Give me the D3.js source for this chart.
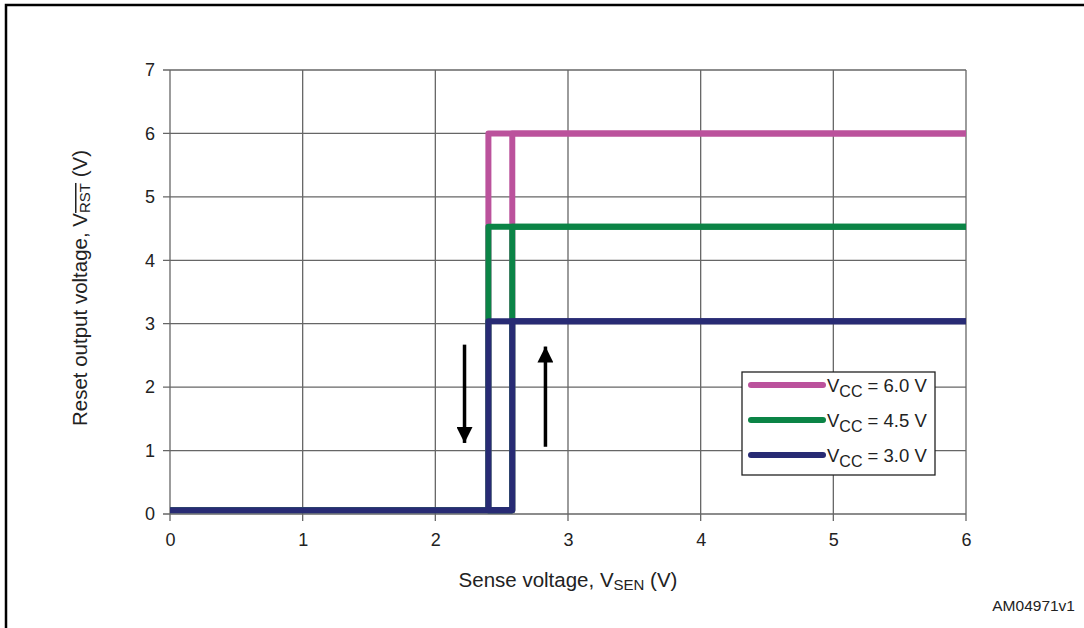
<!DOCTYPE html>
<html>
<head>
<meta charset="utf-8">
<script src="https://cdn.jsdelivr.net/npm/d3@7"></script>
<style>
  body { margin: 0; background: #fff; }
  text { font-family: "Liberation Sans", Arial, sans-serif; fill: #222; }
</style>
</head>
<body>
<div id="container"></div>
<script>
// data
const xTicks = [0, 1, 2, 3, 4, 5, 6]
const yTicks = [0, 1, 2, 3, 4, 5, 6, 7]
const seriesNames = ['V_CC = 6.0 V', 'V_CC = 4.5 V', 'V_CC = 3.0 V']
const seriesColors = ['#bb529c', '#0b8446', '#282b74']
const highLevels = [6.0, 4.53, 3.04]
const lowLevel = 0.06
const fallX = 2.40   // falling threshold
const riseX = 2.58   // rising threshold
const xEnd = 6
// arrows: [x, yFrom, yTo]
const arrows = [[2.22, 2.67, 1.12], [2.83, 1.06, 2.64]]

const width = 1084
const height = 628
const padL = 170, padR = 966, padT = 70, padB = 514

const svg = d3.select('#container').append('svg')
    .attr('width', width)
    .attr('height', height)

const xScale = d3.scaleLinear().domain([0, 6]).range([padL, padR])
const yScale = d3.scaleLinear().domain([0, 7]).range([padB, padT])

// outer frame (only top and left visible)
svg.append('path')
    .attr('d', `M6,${height + 5} V5 H${width + 5}`)
    .attr('fill', 'none')
    .attr('stroke', '#000')
    .attr('stroke-width', 2.5)

// grid
svg.append('g').selectAll('line')
    .data(xTicks)
    .enter()
    .append('line')
    .attr('x1', d => xScale(d)).attr('x2', d => xScale(d))
    .attr('y1', padT).attr('y2', padB + 7)
    .attr('stroke', '#666').attr('stroke-width', 1.3)

svg.append('g').selectAll('line')
    .data(yTicks)
    .enter()
    .append('line')
    .attr('x1', padL - 7).attr('x2', padR)
    .attr('y1', d => yScale(d)).attr('y2', d => yScale(d))
    .attr('stroke', '#666').attr('stroke-width', 1.3)

// axes (labels only, lines drawn as grid)
const xAxis = d3.axisBottom(xScale).tickValues(xTicks).tickFormat(d3.format('d')).tickSize(0).tickPadding(19)
const yAxis = d3.axisLeft(yScale).tickValues(yTicks).tickFormat(d3.format('d')).tickSize(0).tickPadding(15)

const gx = svg.append('g')
    .attr('transform', `translate(0, ${padB})`)
    .call(xAxis)
gx.select('.domain').remove()
gx.selectAll('text').style('font-size', '18px').style('font-family', '"Liberation Sans", Arial, sans-serif').attr('fill', '#222')

const gy = svg.append('g')
    .attr('transform', `translate(${padL}, 0)`)
    .call(yAxis)
gy.select('.domain').remove()
gy.selectAll('text').style('font-size', '18px').style('font-family', '"Liberation Sans", Arial, sans-serif').attr('fill', '#222')

// hysteresis loops
const line = d3.line().x(d => xScale(d[0])).y(d => yScale(d[1]))

highLevels.forEach((hi, i) => {
    const loop = [
        [0, lowLevel], [riseX, lowLevel], [riseX, hi], [xEnd, hi]
    ]
    const back = [
        [xEnd, hi], [fallX, hi], [fallX, lowLevel], [riseX, lowLevel]
    ]
    ;[loop, back].forEach(pts => {
        svg.append('path')
            .attr('d', line(pts))
            .attr('fill', 'none')
            .attr('stroke', seriesColors[i])
            .attr('stroke-width', 6)
            .attr('stroke-linejoin', 'round')
    })
})

// arrows
svg.append('defs').append('marker')
    .attr('id', 'head')
    .attr('viewBox', '0 0 10 10')
    .attr('refX', 10).attr('refY', 5)
    .attr('markerWidth', 24).attr('markerHeight', 16)
    .attr('markerUnits', 'userSpaceOnUse')
    .attr('orient', 'auto')
    .append('path')
    .attr('d', 'M0,0 L10,5 L0,10 Z')
    .attr('fill', '#000')

svg.append('g').selectAll('line')
    .data(arrows)
    .enter()
    .append('line')
    .attr('x1', d => xScale(d[0])).attr('x2', d => xScale(d[0]))
    .attr('y1', d => yScale(d[1])).attr('y2', d => yScale(d[2]))
    .attr('stroke', '#000').attr('stroke-width', 3.5)
    .attr('marker-end', 'url(#head)')

// legend
const lg = svg.append('g').attr('transform', 'translate(742, 372)')
lg.append('rect')
    .attr('width', 193).attr('height', 103)
    .attr('fill', '#fff').attr('stroke', '#222').attr('stroke-width', 1.3)

seriesNames.forEach((name, i) => {
    const y = 13 + i * 35
    lg.append('line')
        .attr('x1', 9).attr('x2', 81)
        .attr('y1', y).attr('y2', y)
        .attr('stroke', seriesColors[i]).attr('stroke-width', 6)
        .attr('stroke-linecap', 'round')
    const t = lg.append('text')
        .attr('x', 85).attr('y', y + 7)
        .style('font-size', '18.5px')
    t.append('tspan').text('V')
    t.append('tspan').attr('dy', 5).style('font-size', '16px').text('CC')
    t.append('tspan').attr('dy', -5).text(' = ' + name.split('= ')[1])
})

// axis titles
const xt = svg.append('text')
    .attr('x', 568).attr('y', 587)
    .attr('text-anchor', 'middle')
    .style('font-size', '20.5px')
xt.append('tspan').text('Sense voltage, V')
xt.append('tspan').attr('dy', 3).style('font-size', '15px').text('SEN')
xt.append('tspan').attr('dy', -3).text(' (V)')

const yt = svg.append('text')
    .attr('transform', 'translate(87, 288) rotate(-90)')
    .attr('text-anchor', 'middle')
    .style('font-size', '20.5px')
yt.append('tspan').text('Reset output voltage, V')
yt.append('tspan').attr('dy', 3).style('font-size', '15px')
    .style('text-decoration', 'overline').text('RST')
yt.append('tspan').attr('dy', -3).text('  (V)')

svg.append('text')
    .attr('x', 1075).attr('y', 611)
    .attr('text-anchor', 'end')
    .style('font-size', '15.5px')
    .text('AM04971v1')
</script>
</body>
</html>
